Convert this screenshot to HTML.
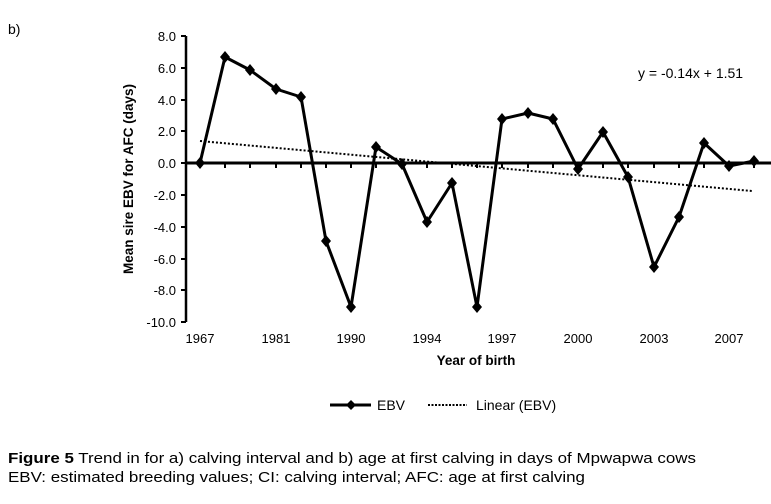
<!DOCTYPE html>
<html><head><meta charset="utf-8"><style>body{margin:0;background:#fff}svg{display:block}</style></head>
<body>
<svg width="771" height="504" xmlns="http://www.w3.org/2000/svg" font-family="Liberation Sans, Arial, sans-serif">
<rect width="771" height="504" fill="#fff"/>
<text x="8" y="34" font-size="14">b)</text>
<line x1="186" y1="36" x2="186" y2="322" stroke="#000" stroke-width="2.5"/>
<g stroke="#000" stroke-width="2">
<line x1="181" y1="36" x2="186" y2="36"/><line x1="181" y1="68" x2="186" y2="68"/><line x1="181" y1="100" x2="186" y2="100"/><line x1="181" y1="131" x2="186" y2="131"/><line x1="181" y1="163" x2="186" y2="163"/><line x1="181" y1="195" x2="186" y2="195"/><line x1="181" y1="227" x2="186" y2="227"/><line x1="181" y1="259" x2="186" y2="259"/><line x1="181" y1="290" x2="186" y2="290"/><line x1="181" y1="322" x2="186" y2="322"/>
</g>
<g font-size="13" text-anchor="end">
<text x="176" y="41">8.0</text><text x="176" y="73">6.0</text><text x="176" y="105">4.0</text><text x="176" y="136">2.0</text><text x="176" y="168">0.0</text><text x="176" y="200">-2.0</text><text x="176" y="232">-4.0</text><text x="176" y="264">-6.0</text><text x="176" y="295">-8.0</text><text x="176" y="327">-10.0</text>
</g>
<text transform="translate(133,179) rotate(-90)" font-size="13.5" font-weight="bold" text-anchor="middle">Mean sire EBV for AFC (days)</text>
<line x1="186" y1="163" x2="771" y2="163" stroke="#000" stroke-width="3"/>
<g stroke="#000" stroke-width="2" id="ticks"></g>
<g font-size="13" text-anchor="middle">
<text x="200" y="343">1967</text><text x="276" y="343">1981</text><text x="351" y="343">1990</text><text x="427" y="343">1994</text><text x="502" y="343">1997</text><text x="578" y="343">2000</text><text x="654" y="343">2003</text><text x="729" y="343">2007</text>
</g>
<text x="476" y="365" font-size="13.5" font-weight="bold" text-anchor="middle">Year of birth</text>
<line x1="200" y1="141" x2="752" y2="191" stroke="#000" stroke-width="2" stroke-dasharray="2,2"/>
<text x="638" y="78" font-size="14">y = -0.14x + 1.51</text>
<polyline fill="none" stroke="#000" stroke-width="3" stroke-linejoin="round" points="200,163 225,57 250,70 276,89 301,97 326,241 351,307 376,147 402,164 427,222 452,183 477,307 502,119 528,113 553,119 578,169 603,132 628,177 654,267 679,217 704,143 729,166 754,161"/>
<g fill="#000" id="m"></g>
<line x1="330" y1="405" x2="371" y2="405" stroke="#000" stroke-width="3"/>
<path d="M351,400 L356,405 L351,410 L346,405Z" fill="#000"/>
<text x="377" y="410" font-size="14">EBV</text>
<line x1="428" y1="405" x2="467" y2="405" stroke="#000" stroke-width="2" stroke-dasharray="2,1.5"/>
<text x="476" y="410" font-size="14">Linear (EBV)</text>
<text x="8" y="463" font-size="15" textLength="688" lengthAdjust="spacingAndGlyphs"><tspan font-weight="bold">Figure 5</tspan> Trend in for a) calving interval and b) age at first calving in days of Mpwapwa cows</text>
<text x="8" y="482" font-size="15" textLength="577" lengthAdjust="spacingAndGlyphs">EBV: estimated breeding values; CI: calving interval; AFC: age at first calving</text>
</svg>
<script>
var pts=[[200,163],[225,57],[250,70],[276,89],[301,97],[326,241],[351,307],[376,147],[402,164],[427,222],[452,183],[477,307],[502,119],[528,113],[553,119],[578,169],[603,132],[628,177],[654,267],[679,217],[704,143],[729,166],[754,161]];
var m=document.getElementById('m'),t=document.getElementById('ticks'),ns='http://www.w3.org/2000/svg';
pts.forEach(function(p){var e=document.createElementNS(ns,'path');e.setAttribute('d','M'+p[0]+','+(p[1]-6)+' L'+(p[0]+5)+','+p[1]+' L'+p[0]+','+(p[1]+6)+' L'+(p[0]-5)+','+p[1]+'Z');m.appendChild(e);
var l=document.createElementNS(ns,'line');l.setAttribute('x1',p[0]);l.setAttribute('x2',p[0]);l.setAttribute('y1',163);l.setAttribute('y2',168);t.appendChild(l);});
</script>
</body></html>
